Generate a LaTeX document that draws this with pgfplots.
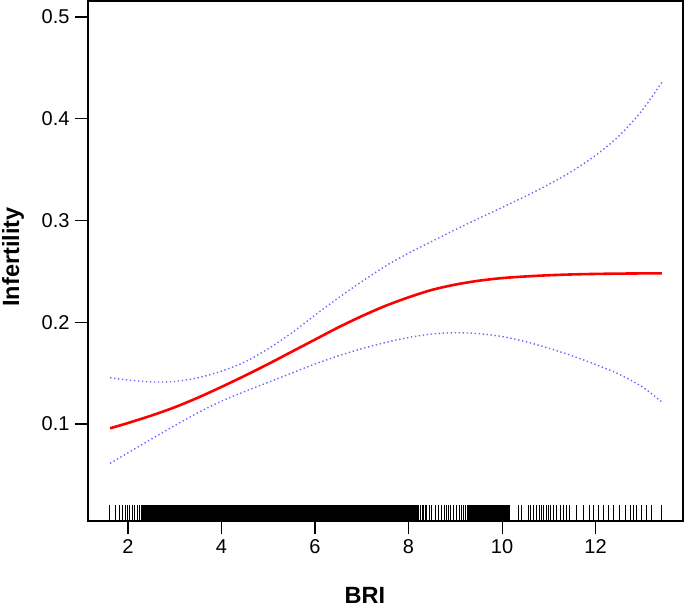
\documentclass[border=0pt]{standalone}
\usepackage{pgfplots}
\pgfplotsset{compat=1.18}
\usepackage{fontspec}
\setmainfont{Liberation Sans}
\definecolor{ciblue}{RGB}{105,105,255}

\begin{document}
\begin{tikzpicture}
\useasboundingbox (-88bp,-89bp) rectangle (597bp,521bp);
\begin{axis}[
  scale only axis,
  width=595bp, height=520bp,
  xmin=1.144, xmax=13.87,
  ymin=0.0047, ymax=0.5157,
  axis line style={line width=1.1bp},
  xtick={2,4,6,8,10,12},
  ytick={0.1,0.2,0.3,0.4,0.5},
  yticklabels={0.1,0.2,0.3,0.4,0.5},
  xtick pos=bottom, ytick pos=left,
  tick align=outside,
  major tick length=13bp,
  tick style={line width=1.1bp, black},
  /pgf/number format/assume math mode=true,
  ticklabel style={font=\fontsize{20bp}{24bp}\selectfont, text=black},
  yticklabel style={xshift=-2bp},
  xticklabel style={yshift=-2bp},
  xlabel={BRI},
  ylabel={Infertility},
  xlabel style={at={(axis description cs:0.4655,0)}, anchor=north, inner sep=0pt, yshift=-66bp, font=\bfseries\fontsize{23.5bp}{28bp}\selectfont},
  ylabel style={at={(axis description cs:-0.1445,0.5077)}, anchor=north, inner sep=0pt, font=\bfseries\fontsize{23.5bp}{28bp}\selectfont},
  clip=true,
]
% rug: sparse left part
\addplot[ycomb, black, line width=0.8bp, mark=none] coordinates {
(1.61,0.0204) (1.73,0.0204) (1.82,0.0204) (1.89,0.0204) (1.94,0.0204) (1.99,0.0204) (2.04,0.0204) (2.09,0.0204) (2.14,0.0204) (2.20,0.0204) (2.25,0.0204)
};
% rug: dense part
\addplot[ycomb, black, line width=2.1bp, mark=none] coordinates {
(2.31,0.0204) (2.34,0.0204) (2.38,0.0204) (2.42,0.0204) (2.46,0.0204) (2.50,0.0204) (2.54,0.0204) (2.58,0.0204) (2.62,0.0204) (2.66,0.0204) (2.70,0.0204) (2.74,0.0204) (2.78,0.0204) (2.82,0.0204) (2.86,0.0204) (2.90,0.0204) (2.94,0.0204) (2.98,0.0204)
(3.02,0.0204) (3.06,0.0204) (3.10,0.0204) (3.14,0.0204) (3.18,0.0204) (3.22,0.0204) (3.26,0.0204) (3.30,0.0204) (3.34,0.0204) (3.38,0.0204) (3.42,0.0204) (3.46,0.0204) (3.50,0.0204) (3.54,0.0204) (3.58,0.0204) (3.62,0.0204) (3.66,0.0204) (3.70,0.0204) (3.74,0.0204) (3.78,0.0204) (3.82,0.0204) (3.86,0.0204) (3.90,0.0204) (3.94,0.0204) (3.98,0.0204)
(4.02,0.0204) (4.06,0.0204) (4.10,0.0204) (4.14,0.0204) (4.18,0.0204) (4.22,0.0204) (4.26,0.0204) (4.30,0.0204) (4.34,0.0204) (4.38,0.0204) (4.42,0.0204) (4.46,0.0204) (4.50,0.0204) (4.54,0.0204) (4.58,0.0204) (4.62,0.0204) (4.66,0.0204) (4.70,0.0204) (4.74,0.0204) (4.78,0.0204) (4.82,0.0204) (4.86,0.0204) (4.90,0.0204) (4.94,0.0204) (4.98,0.0204)
(5.02,0.0204) (5.06,0.0204) (5.10,0.0204) (5.14,0.0204) (5.18,0.0204) (5.22,0.0204) (5.26,0.0204) (5.30,0.0204) (5.34,0.0204) (5.38,0.0204) (5.42,0.0204) (5.46,0.0204) (5.50,0.0204) (5.54,0.0204) (5.58,0.0204) (5.62,0.0204) (5.66,0.0204) (5.70,0.0204) (5.74,0.0204) (5.78,0.0204) (5.82,0.0204) (5.86,0.0204) (5.90,0.0204) (5.94,0.0204) (5.98,0.0204)
(6.02,0.0204) (6.06,0.0204) (6.10,0.0204) (6.14,0.0204) (6.18,0.0204) (6.22,0.0204) (6.26,0.0204) (6.30,0.0204) (6.34,0.0204) (6.38,0.0204) (6.42,0.0204) (6.46,0.0204) (6.50,0.0204) (6.54,0.0204) (6.58,0.0204) (6.62,0.0204) (6.66,0.0204) (6.70,0.0204) (6.74,0.0204) (6.78,0.0204) (6.82,0.0204) (6.86,0.0204) (6.90,0.0204) (6.94,0.0204) (6.98,0.0204)
(7.02,0.0204) (7.06,0.0204) (7.10,0.0204) (7.14,0.0204) (7.18,0.0204) (7.22,0.0204) (7.26,0.0204) (7.30,0.0204) (7.34,0.0204) (7.38,0.0204) (7.42,0.0204) (7.46,0.0204) (7.50,0.0204) (7.54,0.0204) (7.58,0.0204) (7.62,0.0204) (7.66,0.0204) (7.70,0.0204) (7.74,0.0204) (7.78,0.0204) (7.82,0.0204) (7.86,0.0204) (7.90,0.0204) (7.94,0.0204) (7.98,0.0204)
(8.02,0.0204) (8.06,0.0204) (8.10,0.0204) (8.14,0.0204) (8.18,0.0204)
(9.27,0.0204) (9.31,0.0204) (9.35,0.0204) (9.39,0.0204) (9.43,0.0204) (9.47,0.0204) (9.51,0.0204) (9.55,0.0204) (9.59,0.0204) (9.63,0.0204) (9.67,0.0204) (9.71,0.0204) (9.75,0.0204) (9.79,0.0204) (9.83,0.0204) (9.87,0.0204) (9.91,0.0204) (9.95,0.0204) (9.99,0.0204)
(10.03,0.0204) (10.07,0.0204) (10.11,0.0204) (10.15,0.0204)
};
% rug: medium and sparse right part
\addplot[ycomb, black, line width=1.0bp, mark=none] coordinates {
(8.22,0.0204) (8.25,0.0204) (8.29,0.0204) (8.32,0.0204) (8.36,0.0204) (8.39,0.0204) (8.45,0.0204) (8.50,0.0204) (8.57,0.0204) (8.64,0.0204) (8.71,0.0204) (8.76,0.0204) (8.82,0.0204) (8.85,0.0204) (8.89,0.0204) (8.96,0.0204) (9.03,0.0204) (9.10,0.0204) (9.14,0.0204) (9.17,0.0204) (9.21,0.0204)
(10.35,0.0204) (10.42,0.0204) (10.56,0.0204) (10.60,0.0204) (10.67,0.0204) (10.74,0.0204) (10.81,0.0204) (10.85,0.0204) (10.88,0.0204) (10.96,0.0204) (10.99,0.0204) (11.03,0.0204) (11.10,0.0204) (11.17,0.0204) (11.24,0.0204) (11.31,0.0204) (11.38,0.0204) (11.45,0.0204) (11.60,0.0204) (11.74,0.0204) (11.88,0.0204) (11.95,0.0204)
(12.06,0.0204) (12.17,0.0204) (12.27,0.0204) (12.38,0.0204) (12.52,0.0204) (12.63,0.0204) (12.74,0.0204) (12.81,0.0204) (12.88,0.0204) (12.99,0.0204) (13.09,0.0204) (13.20,0.0204) (13.42,0.0204)
};

\addplot[ciblue, line width=1.4bp, dash pattern=on 1.4bp off 2.6bp, smooth] coordinates {
(1.615,0.1455) (2.0,0.1432) (2.5,0.1414) (3.0,0.1418) (3.5,0.1455) (4.0,0.1520) (4.5,0.1610) (5.0,0.1740) (5.5,0.1895) (6.0,0.2070) (6.5,0.2240) (7.0,0.2400) (7.5,0.2550) (8.0,0.2680) (8.5,0.2795) (9.0,0.2910) (9.5,0.3020) (10.0,0.3128) (10.5,0.3238) (11.0,0.3355) (11.5,0.3485) (12.0,0.3640) (12.5,0.3830) (13.0,0.4085) (13.42,0.4360)
};
\addplot[ciblue, line width=1.4bp, dash pattern=on 1.4bp off 2.6bp, smooth] coordinates {
(1.615,0.0614) (2.0,0.0717) (2.5,0.0852) (3.0,0.0985) (3.5,0.1112) (4.0,0.1225) (4.5,0.1320) (5.0,0.1410) (5.5,0.1500) (6.0,0.1590) (6.5,0.1670) (7.0,0.1740) (7.5,0.1800) (8.0,0.1850) (8.5,0.1885) (9.0,0.1897) (9.5,0.1888) (10.0,0.1860) (10.5,0.1810) (11.0,0.1745) (11.5,0.1670) (12.0,0.1585) (12.5,0.1490) (13.0,0.1365) (13.42,0.1216)
};
\addplot[red, line width=2.6bp, smooth] coordinates {
(1.615,0.0958) (2.0,0.1010) (2.5,0.1083) (3.0,0.1165) (3.5,0.1260) (4.0,0.1365) (4.5,0.1475) (5.0,0.1590) (5.5,0.1710) (6.0,0.1830) (6.5,0.1950) (7.0,0.2060) (7.5,0.2160) (8.0,0.2245) (8.5,0.2318) (9.0,0.2370) (9.5,0.2408) (10.0,0.2434) (10.5,0.2450) (11.0,0.2462) (11.5,0.2470) (12.0,0.2475) (12.5,0.2478) (13.0,0.2480) (13.42,0.2481)
};
\end{axis}
\end{tikzpicture}
\end{document}
